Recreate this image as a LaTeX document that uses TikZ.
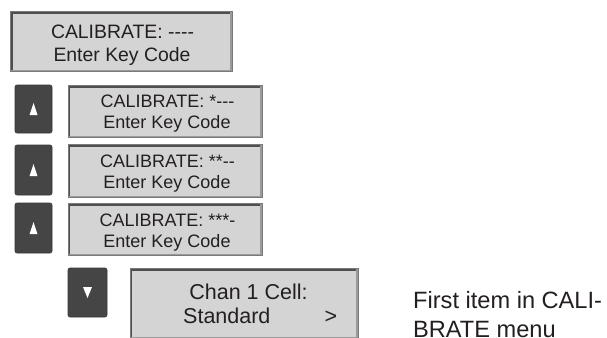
\documentclass[tikz,border=0pt]{standalone}
\usepackage{fontspec}
\setmainfont{Liberation Sans}
\usetikzlibrary{calc}
\definecolor{ink}{HTML}{231F20}
\definecolor{lcdfill}{HTML}{D4D4D4}
\definecolor{lcdedge}{HTML}{7A7A7A}
\definecolor{lcddark}{HTML}{4F4F4F}
\definecolor{lcdmid}{HTML}{9A9A9A}
\definecolor{keyfill}{HTML}{454545}
\newcommand{\hy}{-\kern0pt}
\tikzset{
  lcd/.style={draw=lcdedge, line width=0.9pt, fill=lcdfill, inner sep=0pt, rectangle,
    path picture={
      \fill[lcddark] (path picture bounding box.north west) rectangle ([yshift=-2.6pt]path picture bounding box.north east);
      \fill[lcddark] (path picture bounding box.north west) rectangle ([xshift=2.2pt]path picture bounding box.south west);
      \fill[lcdmid] ([xshift=-2.2pt]path picture bounding box.north east) rectangle (path picture bounding box.south east);
      \fill[lcdmid] ([yshift=1.4pt]path picture bounding box.south west) rectangle (path picture bounding box.south east);
    }},
  keybtn/.style={fill=keyfill, draw=keyfill!80!black, line width=0.6pt, rounded corners=2pt, rectangle, inner sep=0pt},
  txta/.style={anchor=base, text=ink, inner sep=0pt, font=\fontsize{19.4}{22}\selectfont},
  txtb/.style={anchor=base, text=ink, inner sep=0pt, font=\fontsize{18}{21}\selectfont},
  txtc/.style={anchor=base, text=ink, inner sep=0pt, font=\fontsize{21.5}{24}\selectfont},
  txtd/.style={anchor=base west, text=ink, inner sep=0pt, font=\fontsize{23.6}{28}\selectfont},
}
\begin{document}
\begin{tikzpicture}[x=1pt,y=-1pt]
\useasboundingbox (0,0) rectangle (607,337);
\clip (0,0) rectangle (607,337);
% box 1
\node[lcd, minimum width=222pt, minimum height=60pt] (b1) at (121.5,41.5) {};
\node[txta] (b1a) at (122.5,38) {CALIBRATE: \hy\hy\hy\hy};
\node[txta] (b1b) at (122,62) {Enter Key Code};
% box 2
\node[keybtn, minimum width=37pt, minimum height=48pt] (k1) at (33.5,109) {};
\node[lcd, minimum width=194pt, minimum height=52pt] (b2) at (165,111) {};
\node[txtb] (b2a) at (167.5,107.5) {CALIBRATE: *\hy\hy\hy};
\node[txtb] (b2b) at (167,128.8) {Enter Key Code};
% box 3
\node[keybtn, minimum width=37pt, minimum height=50pt] (k2) at (33.5,170) {};
\node[lcd, minimum width=194pt, minimum height=53pt] (b3) at (165,170.5) {};
\node[txtb] (b3a) at (167.5,167.5) {CALIBRATE: **\hy\hy};
\node[txtb] (b3b) at (167,188.3) {Enter Key Code};
% box 4
\node[keybtn, minimum width=37pt, minimum height=50pt] (k3) at (33.5,228) {};
\node[lcd, minimum width=194pt, minimum height=52pt] (b4) at (165,229) {};
\node[txtb] (b4a) at (167.5,226.5) {CALIBRATE: ***\hy};
\node[txtb] (b4b) at (167,247.3) {Enter Key Code};
% box 5
\node[keybtn, minimum width=39pt, minimum height=49pt] (k4) at (87.5,292.5) {};
\node[lcd, minimum width=228pt, minimum height=70pt] (b5) at (244,303) {};
\node[txtc] (b5a) at (248.5,299.5) {Chan 1 Cell:};
\node[txtc, anchor=base west] (b5b) at (183,323.5) {Standard};
\node[txtc] (b5c) at (331,323.5) {>};
% key arrows
\fill[white] ([shift={(-4,6)}]k1.center) -- ([shift={(4,6)}]k1.center) -- ([shift={(0,-6)}]k1.center) -- cycle;
\fill[white] ([shift={(-4,6)}]k2.center) -- ([shift={(4,6)}]k2.center) -- ([shift={(0,-6)}]k2.center) -- cycle;
\fill[white] ([shift={(-4,6)}]k3.center) -- ([shift={(4,6)}]k3.center) -- ([shift={(0,-6)}]k3.center) -- cycle;
\fill[white] ([shift={(-4.5,-5.5)}]k4.center) -- ([shift={(4.5,-5.5)}]k4.center) -- ([shift={(0,5.5)}]k4.center) -- cycle;
% caption
\node[txtd] (cap1) at (413,308) {First item in CALI-};
\node[txtd] (cap2) at (413,337.5) {BRATE menu};
\end{tikzpicture}
\end{document}
